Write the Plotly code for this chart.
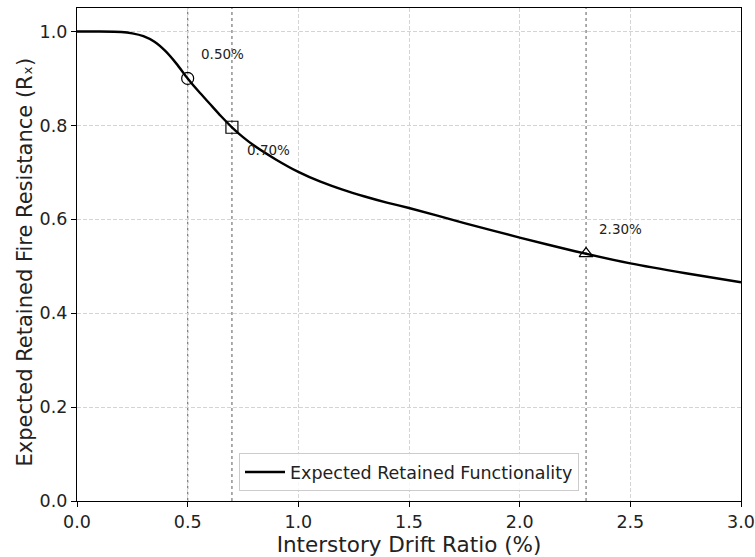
import plotly.graph_objects as go

# Curve samples
drift = [0.0, 0.1, 0.2, 0.25, 0.3, 0.35, 0.4, 0.45, 0.5, 0.55, 0.6, 0.65, 0.7, 0.75, 0.8, 0.9,
         1.0, 1.1, 1.2, 1.3, 1.4, 1.5, 1.75, 2.0, 2.25, 2.5, 2.75, 3.0]
retained = [1.0, 1.0, 0.999, 0.996, 0.990, 0.978, 0.958, 0.931, 0.900, 0.872, 0.846, 0.820, 0.796,
            0.775, 0.757, 0.727, 0.701, 0.680, 0.663, 0.6485, 0.6355, 0.624, 0.592, 0.561, 0.532,
            0.506, 0.485, 0.466]

# Marked thresholds
mark_x = [0.5, 0.7, 2.3]
mark_y = [0.900, 0.796, 0.527]
mark_sym = ["circle-open", "square-open", "triangle-up-open"]
mark_labels = ["0.50%", "0.70%", "2.30%"]
label_x = [0.55, 0.76, 2.35]
label_y = [0.951, 0.747, 0.579]

x_ticks = [0.0, 0.5, 1.0, 1.5, 2.0, 2.5, 3.0]
y_ticks = [0.0, 0.2, 0.4, 0.6, 0.8, 1.0]

x_title = "Interstory Drift Ratio (%)"
y_title = "Expected Retained Fire Resistance (Rₓ)"

FONT = "DejaVu Sans"

fig = go.Figure()

fig.add_trace(go.Scatter(
    x=drift, y=retained, mode="lines",
    line=dict(color="black", width=2.4, shape="spline", smoothing=0.6),
    name="Expected Retained Functionality",
))

for mx, my, ms in zip(mark_x, mark_y, mark_sym):
    fig.add_trace(go.Scatter(
        x=[mx], y=[my], mode="markers",
        marker=dict(symbol=ms, size=12, color="black", line=dict(color="black", width=1.2)),
        showlegend=False,
    ))

for mx in mark_x:
    fig.add_shape(type="line", xref="x", yref="paper", x0=mx, x1=mx, y0=0, y1=1,
                  line=dict(color="#808080", width=1.3, dash="dot"), layer="below")

for lx, ly, lt in zip(label_x, label_y, mark_labels):
    fig.add_annotation(x=lx, y=ly, text=lt, showarrow=False, xanchor="left", yanchor="middle",
                       font=dict(family=FONT, size=13.5, color="#222222"))

# Y axis title placed as rotated text for exact centring
fig.add_annotation(x=0, y=0.5, xref="paper", yref="paper", text=y_title, textangle=-90,
                   showarrow=False, xanchor="center", yanchor="middle", xshift=-53, yshift=-8,
                   font=dict(family=FONT, size=21, color="#222222"))

axis_common = dict(
    showline=True, linecolor="black", linewidth=1.2, mirror=True,
    ticks="outside", ticklen=5, tickwidth=1.2, tickcolor="black",
    showgrid=True, gridcolor="#d4d4d4", griddash="4px,2px", gridwidth=0.8,
    zeroline=False, tickfont=dict(family=FONT, size=17.5, color="#222222"),
    automargin=False, ticklabeloverflow="allow",
)

fig.update_layout(
    width=755, height=557,
    margin=dict(l=77, r=14, t=8, b=56),
    plot_bgcolor="white", paper_bgcolor="white",
    font=dict(family=FONT, color="#222222"),
    xaxis=dict(range=[0, 3.0], tickvals=x_ticks, ticktext=[f"{v:.1f}" for v in x_ticks],
               title=dict(text=x_title, font=dict(family=FONT, size=21.5), standoff=4),
               **axis_common),
    yaxis=dict(range=[0, 1.05], tickvals=y_ticks, ticktext=[f"{v:.1f}" for v in y_ticks],
               **axis_common),
    legend=dict(x=0.5, xanchor="center", y=0.02, yanchor="bottom",
                bgcolor="rgba(255,255,255,0.85)", bordercolor="#cccccc", borderwidth=1,
                itemwidth=40,
                font=dict(family=FONT, size=17.5, color="#222222")),
    showlegend=True,
)

fig.write_html("out.html")
